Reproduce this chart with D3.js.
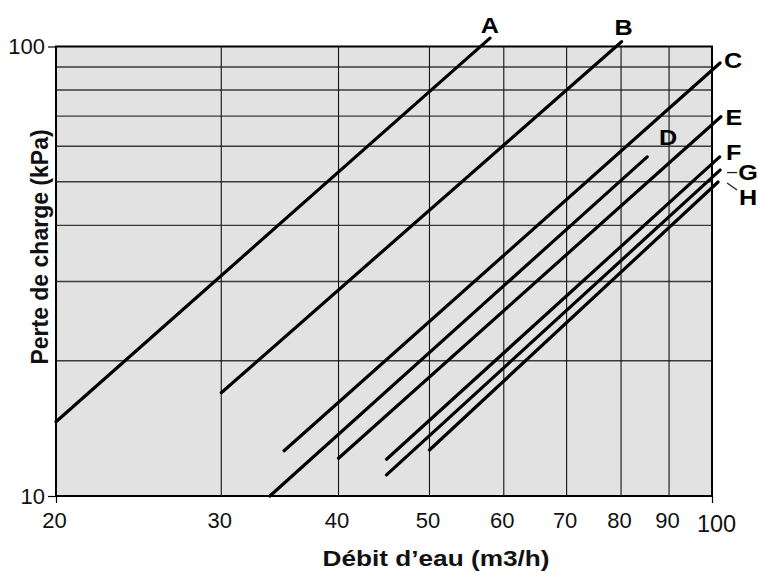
<!DOCTYPE html>
<html><head><meta charset="utf-8">
<script src="https://cdn.jsdelivr.net/npm/d3@7/dist/d3.min.js"></script>
<style>body{margin:0;background:#fff}svg{display:block}</style>
</head><body><svg id="c" width="758" height="573"></svg>
<script>
// ---- data ----
const series = ["A", "B", "C", "D", "E", "F", "G", "H"];
const flowStart = [20, 30, 35, 33.8, 40, 45, 45, 50];           // m3/h
const flowEnd = [58, 80.1, 102, 85.3, 102.2, 101.9, 102, 101.5];
const pressureStart = [14.63, 16.97, 12.61, 10, 12.13, 12.07, 11.14, 12.66]; // kPa
const pressureEnd = [104.4, 102.5, 91.9, 56.8, 69.8, 56.8, 53.1, 49.95];
const xTicks = [20, 30, 40, 50, 60, 70, 80, 90, 100];
const xGrid = [30, 40, 50, 60, 70, 80, 90];
const yGrid = [20, 30, 40, 50, 60, 70, 80, 90];
const yTicks = [10, 100];
const xTitle = "Débit d’eau (m3/h)";
const yTitle = "Perte de charge (kPa)";

// ---- layout / style ----
const L = 56, R = 712, T = 46.5, B = 496;
const FONT = "Liberation Sans, Arial, Helvetica, sans-serif";
const labelOffset = {A:[0,-13], B:[2,-15], C:[13,-3], D:[21,-20], E:[13,0], F:[14,-5], G:[28,2], H:[30,15]};

const svg = d3.select("#c");
const x = d3.scaleLog().domain([20, 100]).range([L, R]);
const y = d3.scaleLog().domain([10, 100]).range([B, T]);

svg.append("rect").attr("x", L).attr("y", T).attr("width", R - L).attr("height", B - T)
  .attr("fill", "#e2e2e2");

// grid
svg.append("g").selectAll("line").data(yGrid).join("line")
  .attr("x1", L).attr("x2", R).attr("y1", d => y(d)).attr("y2", d => y(d))
  .attr("stroke", "#3a3a3a").attr("stroke-width", 1.4);
svg.append("g").selectAll("line").data(xGrid).join("line")
  .attr("x1", d => x(d)).attr("x2", d => x(d)).attr("y1", T).attr("y2", B)
  .attr("stroke", "#111").attr("stroke-width", 1.1);

// frame
svg.append("rect").attr("x", L).attr("y", T).attr("width", R - L).attr("height", B - T)
  .attr("fill", "none").attr("stroke", "#000").attr("stroke-width", 2);

// axes
const xAxis = svg.append("g").attr("transform", `translate(0,${B})`)
  .call(d3.axisBottom(x).tickValues(xTicks).tickFormat(d3.format("d")).tickSize(7).tickPadding(9));
xAxis.select(".domain").remove();
xAxis.selectAll(".tick line").attr("stroke", "#000").attr("stroke-width", 1.2)
  .attr("opacity", d => (d === 20 || d === 100) ? 1 : 0);
xAxis.selectAll(".tick text").attr("font-family", FONT).attr("font-size", 22).attr("fill", "#111")
  .attr("dx", -2);
xAxis.selectAll(".tick text").filter(d => d === 100).attr("font-size", 23.5).attr("dx", 4).attr("dy", "0.85em");

const yAxis = svg.append("g").attr("transform", `translate(${L},0)`)
  .call(d3.axisLeft(y).tickValues(yTicks).tickFormat(d3.format("d")).tickSize(8).tickPadding(3));
yAxis.select(".domain").remove();
yAxis.selectAll(".tick line").attr("stroke", "#000").attr("stroke-width", 1.2);
yAxis.selectAll(".tick text").attr("font-family", FONT).attr("font-size", 22).attr("fill", "#111");

// series lines
const line = d3.line().x(d => x(d[0])).y(d => y(d[1]));
const rows = series.map((s, i) => ({
  name: s,
  pts: [[flowStart[i], pressureStart[i]], [flowEnd[i], pressureEnd[i]]]
}));
svg.append("g").selectAll("path").data(rows).join("path")
  .attr("d", d => line(d.pts)).attr("fill", "none").attr("stroke", "#000")
  .attr("stroke-width", 3.2).attr("stroke-linecap", "round");

// series labels
svg.append("g").selectAll("text").data(rows).join("text")
  .attr("transform", d => `translate(${x(d.pts[1][0]) + labelOffset[d.name][0]},${y(d.pts[1][1]) + labelOffset[d.name][1]}) scale(1.12,1)`)
  .attr("dy", "0.36em").attr("text-anchor", "middle")
  .attr("font-family", FONT).attr("font-weight", "bold").attr("font-size", 22.5).attr("fill", "#000")
  .text(d => d.name);

// leader marks for G and H
const g = rows.find(r => r.name === "G"), h = rows.find(r => r.name === "H");
svg.append("line").attr("x1", x(g.pts[1][0]) + 7).attr("x2", x(g.pts[1][0]) + 17)
  .attr("y1", y(g.pts[1][1]) + 2.5).attr("y2", y(g.pts[1][1]) + 2.5)
  .attr("stroke", "#222").attr("stroke-width", 1.3);
svg.append("line").attr("x1", x(h.pts[1][0]) + 9).attr("x2", x(h.pts[1][0]) + 19)
  .attr("y1", y(h.pts[1][1]) + 1).attr("y2", y(h.pts[1][1]) + 8)
  .attr("stroke", "#222").attr("stroke-width", 1.3);

// titles
svg.append("text").attr("x", 436).attr("y", 566).attr("text-anchor", "middle")
  .attr("font-family", FONT).attr("font-weight", "bold").attr("font-size", 22)
  .attr("textLength", 227).attr("lengthAdjust", "spacingAndGlyphs").attr("fill", "#111")
  .text(xTitle);
svg.append("text").attr("transform", "translate(48,247) rotate(-90)").attr("text-anchor", "middle")
  .attr("font-family", FONT).attr("font-weight", "bold").attr("font-size", 23).attr("fill", "#111")
  .text(yTitle);
</script></body></html>
